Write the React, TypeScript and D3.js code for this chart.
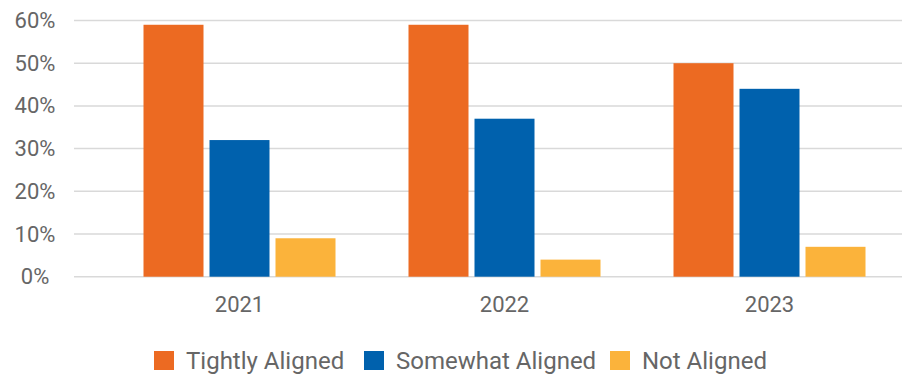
import React from "react";
import * as d3 from "d3";

const years = ["2021", "2022", "2023"];
const seriesNames = ["Tightly Aligned", "Somewhat Aligned", "Not Aligned"];
const tightly = [59, 59, 50];
const somewhat = [32, 37, 44];
const notAligned = [9, 4, 7];
const yTicks = [0, 10, 20, 30, 40, 50, 60];
const colors = ["#EC6A22", "#0061AD", "#FBB33B"];

const W = 902;
const H = 377;

export default function App() {
  const values = [tightly, somewhat, notAligned];
  const y = d3.scaleLinear().domain([0, 60]).range([276.7, 20.5]);
  const x = d3.scaleBand().domain(years).range([107, 902]).padding(0);
  const groupW = 192;
  const xs = d3
    .scaleBand()
    .domain(seriesNames)
    .range([0, groupW])
    .paddingInner(0.0909)
    .paddingOuter(0);
  const off = (x.bandwidth() - groupW) / 2;
  const font = "Roboto, 'Noto Sans', sans-serif";

  const legendItems = [
    { sq: 154, tx: 186 },
    { sq: 364, tx: 396 },
    { sq: 610, tx: 642 },
  ];

  return (
    <svg
      width={W}
      height={H}
      style={{ position: "absolute", left: 0, top: 0, background: "#fff" }}
      fontFamily={font}
    >
      {yTicks.map((t) => (
        <g key={t}>
          <line
            x1={74}
            x2={902}
            y1={y(t)}
            y2={y(t)}
            stroke="#d9d9d9"
            strokeWidth={1.5}
          />
          <text
            x={35}
            y={y(t)}
            textAnchor="middle"
            dominantBaseline="central"
            fontSize={22}
            fill="#666"
          >
            {t}%
          </text>
        </g>
      ))}
      {years.map((yr, i) => (
        <g key={yr} transform={`translate(${(x(yr) as number) + off},0)`}>
          {seriesNames.map((s, j) => (
            <rect
              key={s}
              x={xs(s) as number}
              y={y(values[j][i])}
              width={xs.bandwidth()}
              height={y(0) - y(values[j][i])}
              fill={colors[j]}
            />
          ))}
        </g>
      ))}
      {years.map((yr) => (
        <text
          key={yr}
          x={(x(yr) as number) + x.bandwidth() / 2}
          y={312}
          textAnchor="middle"
          fontSize={22}
          fill="#666"
        >
          {yr}
        </text>
      ))}
      {seriesNames.map((s, j) => (
        <g key={s}>
          <rect
            x={legendItems[j].sq}
            y={351}
            width={20}
            height={19}
            fill={colors[j]}
          />
          <text
            x={legendItems[j].tx}
            y={369}
            fontSize={24}
            fill="#666"
          >
            {s}
          </text>
        </g>
      ))}
    </svg>
  );
}
